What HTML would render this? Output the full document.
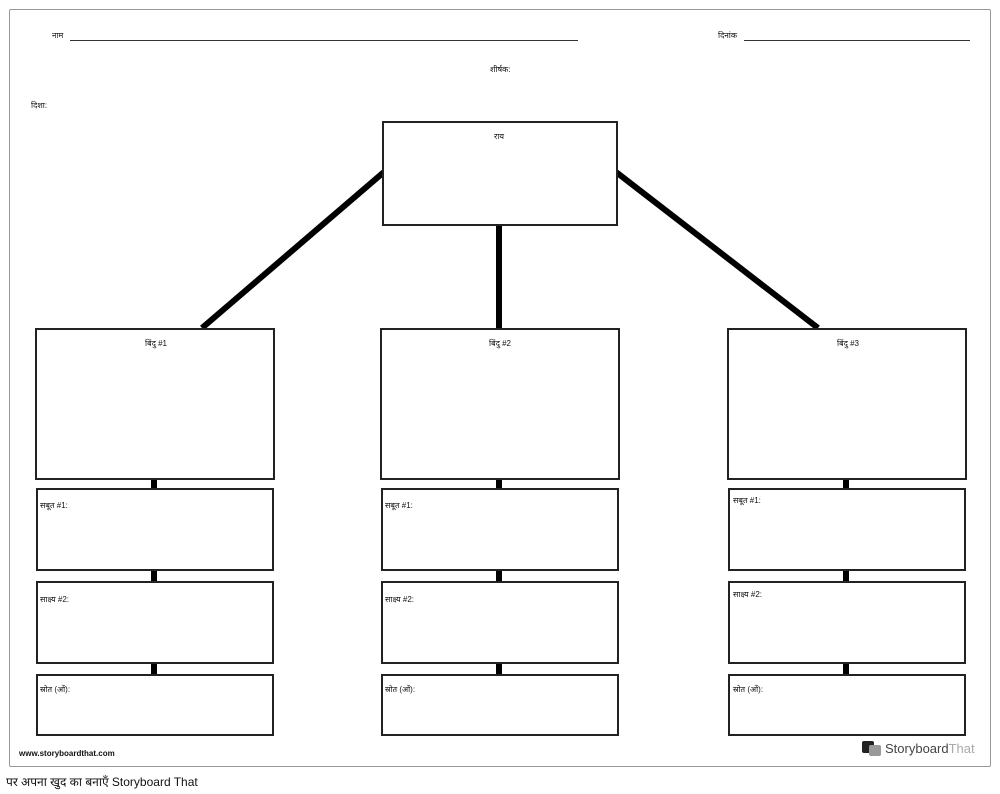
<!DOCTYPE html>
<html><head><meta charset="utf-8"><style>
body{margin:0;width:1000px;height:794px;background:#fff;position:relative;font-family:"Liberation Sans","Noto Sans CJK SC",sans-serif;overflow:hidden}
.b{position:absolute;border:2px solid #222;box-sizing:border-box;background:#fff}
.t{position:absolute;font-size:8px;color:#111;white-space:nowrap}
.c{position:absolute;background:#000;width:6px}
</style></head><body>
<div style="position:absolute;left:9px;top:9px;width:982px;height:758px;border:1px solid #999;box-sizing:border-box;border-radius:2px"></div>
<div class="t" style="left:52px;top:30px">नाम</div>
<div style="position:absolute;left:70px;top:40px;width:508px;height:1px;background:#333"></div>
<div class="t" style="left:718px;top:30px">दिनांक</div>
<div style="position:absolute;left:744px;top:40px;width:226px;height:1px;background:#333"></div>
<div class="t" style="left:490px;top:64px">शीर्षक:</div>
<div class="t" style="left:31px;top:100px">दिशा:</div>
<svg style="position:absolute;left:0;top:0" width="1000" height="794">
<line x1="384" y1="172" x2="202" y2="328" stroke="#000" stroke-width="6"/>
<line x1="616" y1="172" x2="818" y2="328" stroke="#000" stroke-width="6"/>
<line x1="499" y1="225" x2="499" y2="328" stroke="#000" stroke-width="6"/>
</svg>
<div class="b" style="left:382px;top:121px;width:236px;height:105px"></div>
<div class="t" style="left:494px;top:131px">राय</div>

<div class="c" style="left:151px;top:478px;height:200px"></div>
<div class="c" style="left:496px;top:478px;height:200px"></div>
<div class="c" style="left:843px;top:478px;height:200px"></div>

<div class="b" style="left:35px;top:328px;width:240px;height:152px"></div>
<div class="t" style="left:145px;top:338px">बिंदु #1</div>
<div class="b" style="left:36px;top:488px;width:238px;height:83px"></div>
<div class="t" style="left:40px;top:500px">सबूत #1:</div>
<div class="b" style="left:36px;top:581px;width:238px;height:83px"></div>
<div class="t" style="left:40px;top:594px">साक्ष्य #2:</div>
<div class="b" style="left:36px;top:674px;width:238px;height:62px"></div>
<div class="t" style="left:40px;top:684px">स्रोत (ओं):</div>

<div class="b" style="left:380px;top:328px;width:240px;height:152px"></div>
<div class="t" style="left:489px;top:338px">बिंदु #2</div>
<div class="b" style="left:381px;top:488px;width:238px;height:83px"></div>
<div class="t" style="left:385px;top:500px">सबूत #1:</div>
<div class="b" style="left:381px;top:581px;width:238px;height:83px"></div>
<div class="t" style="left:385px;top:594px">साक्ष्य #2:</div>
<div class="b" style="left:381px;top:674px;width:238px;height:62px"></div>
<div class="t" style="left:385px;top:684px">स्रोत (ओं):</div>

<div class="b" style="left:727px;top:328px;width:240px;height:152px"></div>
<div class="t" style="left:837px;top:338px">बिंदु #3</div>
<div class="b" style="left:728px;top:488px;width:238px;height:83px"></div>
<div class="t" style="left:733px;top:495px">सबूत #1:</div>
<div class="b" style="left:728px;top:581px;width:238px;height:83px"></div>
<div class="t" style="left:733px;top:589px">साक्ष्य #2:</div>
<div class="b" style="left:728px;top:674px;width:238px;height:62px"></div>
<div class="t" style="left:733px;top:684px">स्रोत (ओं):</div>

<div class="t" style="left:19px;top:749px;font-weight:bold;font-size:8px">www.storyboardthat.com</div>
<div style="position:absolute;left:862px;top:741px;width:12px;height:12px;background:#222;border-radius:2px"></div>
<div style="position:absolute;left:869px;top:745px;width:12px;height:11px;background:#999;border-radius:2px"></div>
<div class="t" style="left:885px;top:741px;font-size:13px;color:#444">Storyboard<span style="color:#aaa">That</span></div>
<div class="t" style="left:6px;top:773px;font-size:12px;color:#111">पर अपना खुद का बनाएँ Storyboard That</div>
</body></html>
